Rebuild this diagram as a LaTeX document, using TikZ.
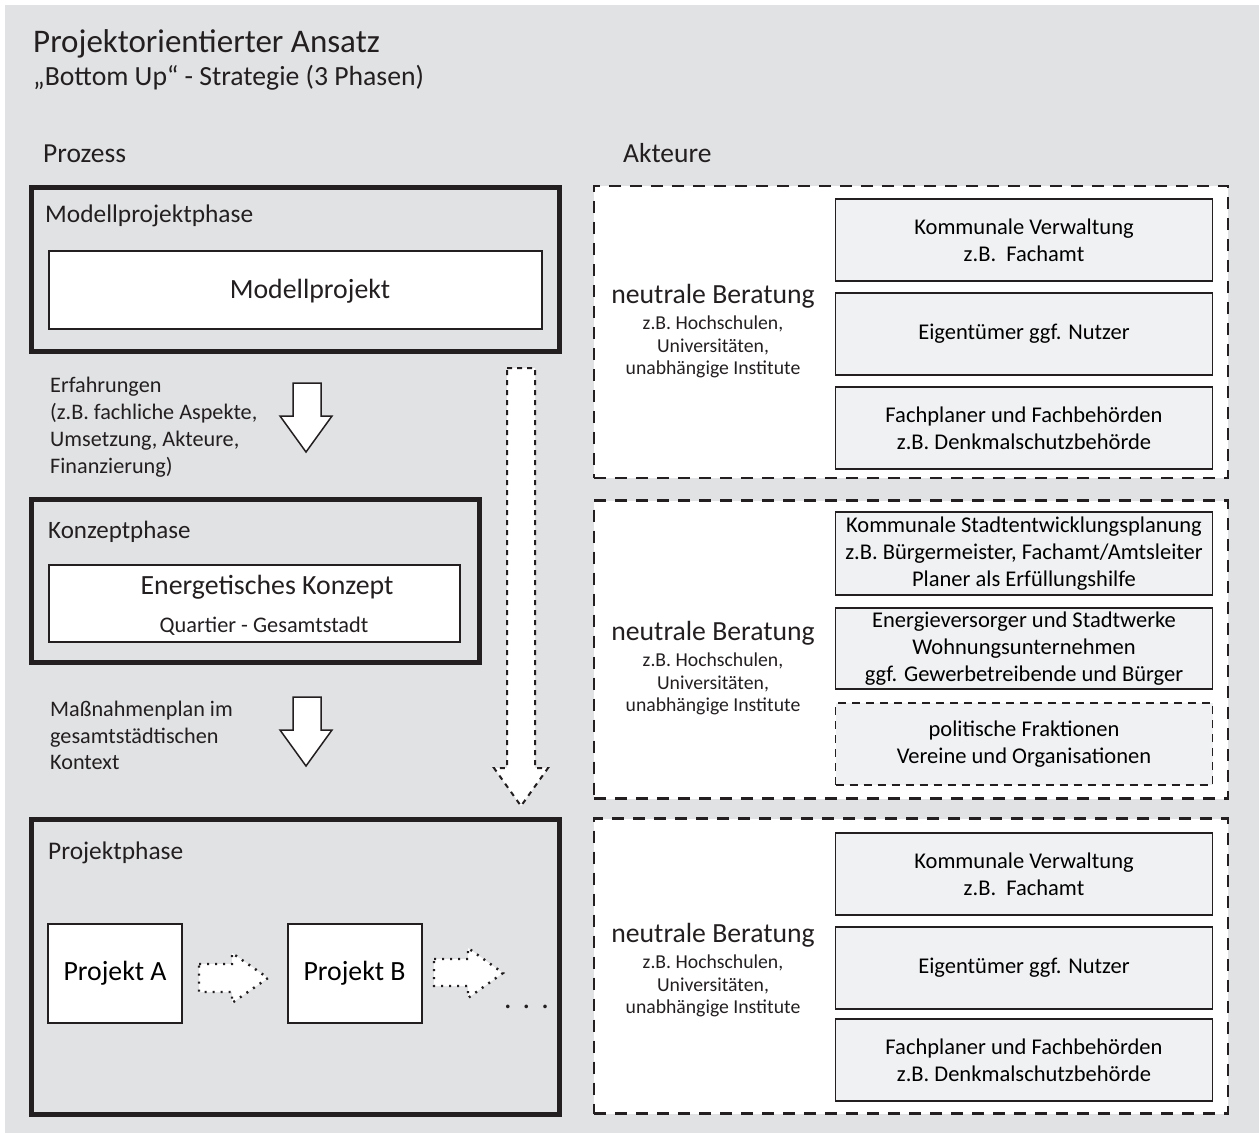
\documentclass[tikz,border=0pt]{standalone}
\usepackage{fontspec}
\setmainfont{Carlito}
\newcommand\fsz[2]{\fontsize{#1}{#2}\selectfont}
\definecolor{bg}{HTML}{E1E2E4}
\definecolor{actfill}{HTML}{F0F1F3}
\definecolor{ink}{HTML}{231F20}
\begin{document}
\begin{tikzpicture}[x=1pt,y=-1pt,
  phase/.style={draw=ink, line width=5pt, fill=bg, inner sep=0pt, outer sep=0pt},
  innerbox/.style={draw=ink, line width=2pt, fill=white, inner sep=0pt, outer sep=0pt},
  dashbox/.style={draw=ink, line width=2.5pt, dash pattern=on 12pt off 9pt, fill=white, inner sep=0pt},
  actor/.style={draw=ink, line width=1.3pt, fill=actfill, align=center, minimum width=377pt, font=\fsz{22.5}{27}, inner sep=0pt},
  lbl/.style={anchor=base west, inner sep=0pt, text=ink},
  ctext/.style={anchor=center, inner sep=0pt, text=ink, align=center},
  blockarrow/.style={draw=ink, line width=1.5pt, fill=white, line join=miter},
  longarrow/.style={draw=ink, line width=2pt, fill=white, dash pattern=on 5pt off 5pt},
  dotarrow/.style={draw=ink, line width=2.4pt, fill=white, dash pattern=on 2pt off 6pt}
]
\useasboundingbox (0,0) rectangle (1259,1133);
\fill[white] (0,0) rectangle (1259,1133);
\fill[bg] (5,5) rectangle (1259,1133);

% titles
\node[lbl, font=\fsz{33}{38}] (title) at (33,52) {Projektorientierter Ansatz};
\node[lbl, font=\fsz{27.7}{32}] (subtitle) at (33,85) {„Bottom Up“ - Strategie (3 Phasen)};
\node[lbl, font=\fsz{27.5}{32}] (prozess) at (43,162) {Prozess};
\node[lbl, font=\fsz{27.5}{32}] (akteure) at (623,162) {Akteure};

% phase 1
\node[phase, minimum width=528pt, minimum height=164pt] (p1) at (295,269) {};
\node[lbl, font=\fsz{25.4}{30}] (p1t) at (45,222) {Modellprojektphase};
\node[innerbox, minimum width=493pt, minimum height=78pt] (mp) at (295.5,290) {};
\node[ctext, font=\fsz{27.8}{32}] (mpt) at (310,291) {Modellprojekt};

% text + arrow 1
\node[lbl, font=\fsz{22.2}{27}] (erf1) at (50,392) {Erfahrungen};
\node[lbl, font=\fsz{22.2}{27}] (erf2) at (50,419) {(z.B. fachliche Aspekte,};
\node[lbl, font=\fsz{22.2}{27}] (erf3) at (50,446) {Umsetzung, Akteure,};
\node[lbl, font=\fsz{22.2}{27}] (erf4) at (50,473) {Finanzierung)};
\draw[blockarrow] (293,383) -- (321,383) -- (321,416) -- (332,416) -- (306,452) -- (280,416) -- (293,416) -- cycle;

% phase 2
\node[phase, minimum width=448pt, minimum height=163pt] (p2) at (255,580.5) {};
\node[lbl, font=\fsz{25}{30}] (p2t) at (48,538) {Konzeptphase};
\node[innerbox, minimum width=411pt, minimum height=77pt] (ek) at (254.5,603.5) {};
\node[ctext, font=\fsz{27.8}{32}] (ekt) at (267,587) {Energetisches Konzept};
\node[ctext, font=\fsz{22.3}{26}] (ekq) at (264,626) {Quartier - Gesamtstadt};

% text + arrow 2
\node[lbl, font=\fsz{22.2}{27}] (mass1) at (50,716) {Maßnahmenplan im};
\node[lbl, font=\fsz{22.2}{27}] (mass2) at (50,743) {gesamtstädtischen};
\node[lbl, font=\fsz{22.2}{27}] (mass3) at (50,769) {Kontext};
\draw[blockarrow] (293,697) -- (321,697) -- (321,730) -- (332,730) -- (306,766) -- (280,730) -- (293,730) -- cycle;

% long dotted arrow
\draw[longarrow] (507,368) -- (535,368) -- (535,768) -- (548,768) -- (521,806) -- (494,768) -- (507,768) -- cycle;

% phase 3
\node[phase, minimum width=528pt, minimum height=295pt] (p3) at (295,966.5) {};
\node[lbl, font=\fsz{25.4}{30}] (p3t) at (48,859) {Projektphase};
\node[innerbox, minimum width=134pt, minimum height=99pt, font=\fsz{27.8}{32}] (pa) at (115,973.5) {Projekt A};
\node[innerbox, minimum width=134pt, minimum height=99pt, font=\fsz{27.8}{32}] (pb) at (354.5,973.5) {Projekt B};
\draw[dotarrow] (199,964) -- (232,964) -- (232,953) -- (268,978) -- (232,1003) -- (232,992) -- (199,992) -- cycle;
\draw[dotarrow] (434,959) -- (468,959) -- (468,948) -- (503,973) -- (468,998) -- (468,986) -- (434,986) -- cycle;
\node[lbl, font=\fsz{30}{34}] (dots) at (504,1008) {.\hspace{11pt}.\hspace{11pt}.};

% right dashed groups
\node[dashbox, minimum width=634pt, minimum height=292pt] (d1) at (911,332) {};
\node[dashbox, minimum width=634pt, minimum height=298pt] (d2) at (911,649.5) {};
\node[dashbox, minimum width=634pt, minimum height=295pt] (d3) at (911,966) {};

\node[ctext, font=\fsz{27.7}{32}] (nb1) at (713,296) {neutrale Beratung};
\node[ctext, font=\fsz{19.7}{22.8}] (nb1s) at (713,347) {z.B. Hochschulen,\\Universitäten,\\unabhängige Institute};
\node[ctext, font=\fsz{27.7}{32}] (nb2) at (713,633) {neutrale Beratung};
\node[ctext, font=\fsz{19.7}{22.8}] (nb2s) at (713,684) {z.B. Hochschulen,\\Universitäten,\\unabhängige Institute};
\node[ctext, font=\fsz{27.7}{32}] (nb3) at (713,935) {neutrale Beratung};
\node[ctext, font=\fsz{19.7}{22.8}] (nb3s) at (713,986) {z.B. Hochschulen,\\Universitäten,\\unabhängige Institute};

\node[actor, minimum height=82pt] (a1) at (1024,240) {Kommunale Verwaltung\\z.B.~ Fachamt};
\node[actor, minimum height=82pt] (a2) at (1024,334) {Eigentümer ggf. Nutzer};
\node[actor, minimum height=82pt] (a3) at (1024,428) {Fachplaner und Fachbehörden\\z.B. Denkmalschutzbehörde};

\node[actor, minimum height=83pt] (b1) at (1024,553.5) {Kommunale Stadtentwicklungsplanung\\z.B. Bürgermeister, Fachamt/Amtsleiter\\Planer als Erfüllungshilfe};
\node[actor, minimum height=81pt] (b2) at (1024,648.5) {Energieversorger und Stadtwerke\\Wohnungsunternehmen\\ggf. Gewerbetreibende und Bürger};
\node[actor, minimum height=82pt, line width=1.2pt, dash pattern=on 8pt off 6pt] (b3) at (1024,744) {politische Fraktionen\\Vereine und Organisationen};

\node[actor, minimum height=82pt] (c1) at (1024,874) {Kommunale Verwaltung\\z.B.~ Fachamt};
\node[actor, minimum height=82pt] (c2) at (1024,968) {Eigentümer ggf. Nutzer};
\node[actor, minimum height=82pt] (c3) at (1024,1060) {Fachplaner und Fachbehörden\\z.B. Denkmalschutzbehörde};
\end{tikzpicture}
\end{document}
